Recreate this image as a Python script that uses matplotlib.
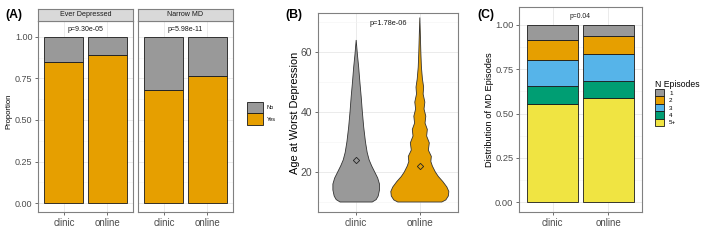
import matplotlib
matplotlib.use('Agg')
import matplotlib.pyplot as plt
from matplotlib.patches import Patch

plt.rcParams['font.family'] = ['Liberation Sans', 'DejaVu Sans']

# ---------------- data ----------------
groups = ['clinic', 'online']

# Panel A
facets = ['Ever Depressed', 'Narrow MD']
yes_ever = [0.851, 0.889]
yes_narrow = [0.678, 0.767]
p_A = ['p=9.30e-05', 'p=5.98e-11']

# Panel B (violin outline: age, half-width in x units)
age_clinic = [10, 10.8, 12, 14, 16, 18, 20, 22, 24, 26.5, 30, 35, 40, 45, 50, 55, 59, 62, 64]
hw_clinic = [0.252, 0.314, 0.346, 0.366, 0.366, 0.338, 0.291, 0.244, 0.204, 0.173,
             0.146, 0.118, 0.097, 0.079, 0.058, 0.039, 0.020, 0.008, 0.0]
age_online = [10, 10.7, 12, 13.5, 15, 16.8, 18.5, 20, 22, 23.5, 25.2, 27.3, 29.7, 32,
              34.2, 36.3, 38.6, 41, 43.3, 46, 48.3, 51, 55, 60, 66, 71.5]
hw_online = [0.346, 0.409, 0.448, 0.456, 0.425, 0.362, 0.291, 0.244, 0.197, 0.173,
             0.181, 0.134, 0.149, 0.107, 0.118, 0.082, 0.094, 0.066, 0.079, 0.052,
             0.060, 0.041, 0.025, 0.016, 0.008, 0.0]
mean_age = [24, 22]
p_B = 'p=1.78e-06'

# Panel C
episode_levels = ['1', '2', '3', '4', '5+']
ep_clinic = [0.0865, 0.1085, 0.151, 0.0995, 0.5545]
ep_online = [0.060, 0.105, 0.151, 0.096, 0.588]
p_C = 'p=0.04'

# ---------------- style ----------------
GRAY = '#999999'
ORANGE = '#E69F00'
BLUE = '#56B4E9'
GREEN = '#009E73'
YELLOW = '#F0E442'
ep_colors = [GRAY, ORANGE, BLUE, GREEN, YELLOW]
EDGE = '#1A1A1A'
TICKC = '#4D4D4D'
BORDER = '#808080'

W, H = 709, 240
fig = plt.figure(figsize=(W / 100, H / 100), dpi=100)


def px_axes(x0, y0, x1, y1):
    return fig.add_axes([x0 / W, 1 - y1 / H, (x1 - x0) / W, (y1 - y0) / H])


def style(ax, ylim, yticks, yticklabels, minor, ytfs, xtfs, show_y=True):
    ax.set_xlim(0.4, 2.6)
    ax.set_ylim(*ylim)
    ax.set_xticks([1, 2])
    ax.set_xticklabels(groups, fontsize=xtfs, color=TICKC)
    ax.set_yticks(yticks)
    if show_y:
        ax.set_yticklabels(yticklabels, fontsize=ytfs, color=TICKC)
    else:
        ax.set_yticklabels([])
    ax.set_yticks(minor, minor=True)
    ax.grid(True, which='major', color='#EBEBEB', lw=0.7)
    ax.grid(True, which='minor', axis='y', color='#F3F3F3', lw=0.4)
    ax.set_axisbelow(True)
    for s in ax.spines.values():
        s.set_color(BORDER)
        s.set_linewidth(0.8)
    ax.tick_params(which='major', length=2.5, width=0.5, color='#333333', pad=1.5)
    ax.tick_params(which='minor', length=0)
    if not show_y:
        ax.tick_params(axis='y', which='major', length=0)


# ---------------- Panel A ----------------
propticks = [0, 0.25, 0.5, 0.75, 1.0]
proplabels = ['0.00', '0.25', '0.50', '0.75', '1.00']
propminor = [0.125, 0.375, 0.625, 0.875]
xpos = [1, 2]
facet_boxes = [(38, 133), (138, 233)]
for i, (name, yes, pv) in enumerate(zip(facets, [yes_ever, yes_narrow], p_A)):
    x0, x1 = facet_boxes[i]
    ax = px_axes(x0, 21, x1, 212)
    no = [1 - v for v in yes]
    ax.bar(xpos, yes, width=0.9, color=ORANGE, edgecolor=EDGE, lw=0.6, zorder=2)
    ax.bar(xpos, no, bottom=yes, width=0.9, color=GRAY, edgecolor=EDGE, lw=0.6, zorder=2)
    style(ax, (-0.054, 1.096), propticks, proplabels, propminor, 6.5, 7.0, show_y=(i == 0))
    ax.text(1.5, 1.046, pv, ha='center', va='center', fontsize=5.0, color='#1A1A1A')
    sax = px_axes(x0, 9, x1, 21)
    sax.set_facecolor('#D9D9D9')
    sax.set_xticks([]); sax.set_yticks([])
    for s in sax.spines.values():
        s.set_color(BORDER); s.set_linewidth(0.8)
    sax.text(0.5, 0.5, name, ha='center', va='center', fontsize=5.1,
             color='#1A1A1A', transform=sax.transAxes)

fig.text(9 / W, 1 - 111 / H, 'Proportion', rotation=90, ha='center', va='center', fontsize=5.5)
fig.text(5 / W, 1 - 15 / H, '(A)', ha='left', va='center', fontsize=8.8, fontweight='bold')

legA = fig.legend(handles=[Patch(facecolor=GRAY, edgecolor=EDGE, lw=0.6, label='No'),
                           Patch(facecolor=ORANGE, edgecolor=EDGE, lw=0.6, label='Yes')],
                  loc='upper left', bbox_to_anchor=(246.5 / W, 1 - 102 / H),
                  bbox_transform=fig.transFigure, frameon=False, fontsize=4.0,
                  handlelength=2.9, handleheight=2.8, labelspacing=0.0,
                  handletextpad=0.7, borderpad=0, borderaxespad=0)

# ---------------- Panel B ----------------
axB = px_axes(318, 13, 458, 212)
for xc, ages, hw, col in zip(xpos, [age_clinic, age_online], [hw_clinic, hw_online], [GRAY, ORANGE]):
    left = [xc - w for w in hw]
    right = [xc + w for w in hw]
    axB.fill(left + right[::-1], ages + ages[::-1], facecolor=col,
             edgecolor='#333333', lw=0.6, zorder=2)
axB.plot(xpos, mean_age, linestyle='none', marker='D', ms=3.2, mfc='none',
         mec='#222222', mew=0.6, zorder=3)
style(axB, (6.67, 73.0), [20, 40, 60], ['20', '40', '60'], [10, 30, 50, 70], 7.5, 7.2)
axB.text(1.5, 69.6, p_B, ha='center', va='center', fontsize=5.3, color='#1A1A1A')
fig.text(295 / W, 1 - 113 / H, 'Age at Worst Depression', rotation=90, ha='center',
         va='center', fontsize=7.9)
fig.text(285 / W, 1 - 15 / H, '(B)', ha='left', va='center', fontsize=8.8, fontweight='bold')

# ---------------- Panel C ----------------
axC = px_axes(519, 7, 642, 212)
for xc, vals in zip(xpos, [ep_clinic, ep_online]):
    bottom = 0.0
    # stack from bottom: 5+, 4, 3, 2, 1
    for lvl in range(len(episode_levels) - 1, -1, -1):
        axC.bar(xc, vals[lvl], bottom=bottom, width=0.9, color=ep_colors[lvl],
                edgecolor=EDGE, lw=0.6, zorder=2)
        bottom += vals[lvl]
style(axC, (-0.0547, 1.1015), propticks, proplabels, propminor, 6.7, 7.0)
axC.text(1.5, 1.049, p_C, ha='center', va='center', fontsize=4.9, color='#1A1A1A')
fig.text(490 / W, 1 - 110 / H, 'Distribution of MD Episodes', rotation=90, ha='center',
         va='center', fontsize=6.7)
fig.text(477 / W, 1 - 15 / H, '(C)', ha='left', va='center', fontsize=8.8, fontweight='bold')

legC = fig.legend(handles=[Patch(facecolor=c, edgecolor=EDGE, lw=0.6, label=l)
                           for c, l in zip(ep_colors, episode_levels)],
                  loc='upper left', bbox_to_anchor=(655 / W, 1 - 80 / H),
                  bbox_transform=fig.transFigure, frameon=False, fontsize=4.5,
                  title='N Episodes', title_fontsize=6.2, alignment='left',
                  handlelength=1.45, handleheight=1.45, labelspacing=0.0,
                  handletextpad=0.8, borderpad=0, borderaxespad=0)

fig.savefig('out.png', dpi=100)
